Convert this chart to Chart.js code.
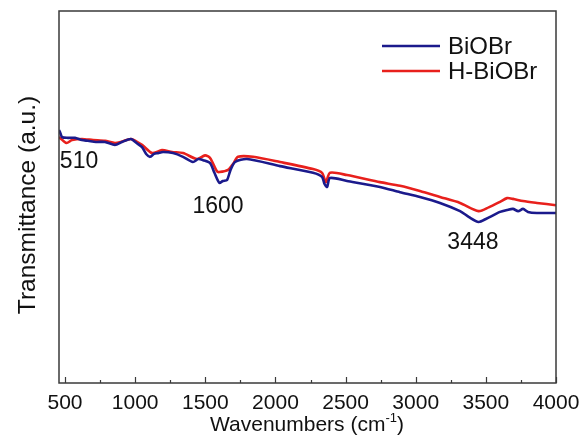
<!DOCTYPE html>
<html>
<head>
<meta charset="utf-8">
<title>FTIR spectra</title>
<script src="https://cdn.jsdelivr.net/npm/chart.js@4"></script>
<style>
  html, body { margin: 0; padding: 0; background: #fff; }
  canvas { display: block; }
</style>
</head>
<body>
<canvas id="ftir" width="583" height="443"></canvas>
<script>
// FTIR spectra, read as (wavenumber, transmittance a.u.)
const biobrX = [457, 464, 479, 521, 571, 620, 664, 720, 785, 856, 906, 970, 1010, 1049, 1080, 1106, 1135, 1163, 1199, 1270, 1341, 1412, 1450, 1484, 1534, 1565, 1600, 1625, 1655, 1680, 1712, 1797, 2033, 2268, 2332, 2350, 2368, 2389, 2510, 2745, 2888, 3030, 3173, 3316, 3380, 3448, 3500, 3601, 3651, 3693, 3730, 3765, 3800, 3864, 4000];
const biobrY = [68.0, 67.5, 66.1, 65.9, 65.9, 65.3, 65.1, 64.8, 64.8, 64.0, 64.8, 65.6, 64.5, 63.4, 61.5, 60.8, 61.6, 61.8, 62.1, 61.8, 60.8, 59.4, 60.2, 59.9, 59.1, 56.5, 53.8, 54.3, 54.6, 57.3, 59.4, 60.2, 58.3, 56.5, 55.4, 53.5, 52.7, 55.1, 54.3, 52.7, 51.3, 50.0, 48.4, 46.2, 44.6, 43.3, 44.1, 46.0, 46.5, 46.8, 46.2, 46.8, 46.0, 45.7, 45.7];

const hbiobrX = [457, 464, 510, 550, 621, 700, 785, 856, 906, 970, 1049, 1120, 1191, 1263, 1341, 1441, 1498, 1534, 1583, 1600, 1662, 1700, 1733, 1840, 2033, 2268, 2332, 2360, 2389, 2510, 2745, 2888, 3030, 3173, 3316, 3448, 3520, 3601, 3651, 3693, 3765, 3864, 4000];
const hbiobrY = [65.9, 65.9, 64.5, 65.3, 65.6, 65.3, 65.1, 64.5, 64.9, 65.6, 64.0, 61.8, 62.6, 62.1, 61.8, 60.2, 61.2, 60.5, 56.9, 56.7, 57.3, 59.0, 60.8, 60.8, 59.4, 57.5, 56.5, 54.0, 56.5, 55.9, 54.0, 53.0, 51.6, 50.0, 48.4, 46.2, 47.2, 48.7, 49.7, 49.5, 48.9, 48.4, 47.8];

const xTickValues = [500, 1000, 1500, 2000, 2500, 3000, 3500, 4000];
const xMinorTicks = [750, 1250, 1750, 2250, 2750, 3250, 3750];

// peak labels, anchored in data units
const peakLabels = ['510', '1600', '3448'];
const peakLabelX = [600, 1591, 3408];
const peakLabelY = [59.4, 47.3, 37.6];

const FONT = '"Liberation Sans", Arial, sans-serif';
const BLUE = '#1b1a8c';
const RED = '#e8201c';

function toPoints(xs, ys) {
  return xs.map((x, i) => ({ x: x, y: ys[i] }));
}

// frame, inward ticks, axis titles, peak labels and legend
const decorations = {
  id: 'decorations',
  afterDraw(chart) {
    const ctx = chart.ctx;
    const area = chart.chartArea;
    const xs = chart.scales.x;
    const ys = chart.scales.y;
    ctx.save();

    ctx.strokeStyle = '#3a3a3a';
    ctx.lineWidth = 1.5;
    ctx.strokeRect(area.left, area.top, area.right - area.left, area.bottom - area.top);

    ctx.lineWidth = 1.2;
    ctx.beginPath();
    xTickValues.forEach(v => {
      const px = Math.round(xs.getPixelForValue(v)) + 0.5;
      ctx.moveTo(px, area.bottom);
      ctx.lineTo(px, area.bottom - 6);
    });
    xMinorTicks.forEach(v => {
      const px = Math.round(xs.getPixelForValue(v)) + 0.5;
      ctx.moveTo(px, area.bottom);
      ctx.lineTo(px, area.bottom - 3);
    });
    ctx.stroke();

    ctx.fillStyle = '#111';
    ctx.textBaseline = 'middle';
    ctx.textAlign = 'center';
    ctx.font = '23px ' + FONT;
    peakLabels.forEach((t, i) => {
      ctx.fillText(t, xs.getPixelForValue(peakLabelX[i]), ys.getPixelForValue(peakLabelY[i]));
    });

    // x title with superscript
    const main = 'Wavenumbers (cm';
    const sup = '-1';
    const close = ')';
    ctx.font = '21px ' + FONT;
    const wMain = ctx.measureText(main).width;
    const wClose = ctx.measureText(close).width;
    ctx.font = '13px ' + FONT;
    const wSup = ctx.measureText(sup).width;
    const total = wMain + wSup + wClose;
    let tx = 307 - total / 2;
    const ty = 424;
    ctx.textAlign = 'left';
    ctx.textBaseline = 'alphabetic';
    ctx.font = '21px ' + FONT;
    ctx.fillText(main, tx, ty + 7);
    tx += wMain;
    ctx.font = '13px ' + FONT;
    ctx.fillText(sup, tx, ty - 2);
    tx += wSup;
    ctx.font = '21px ' + FONT;
    ctx.fillText(close, tx, ty + 7);

    // y title
    ctx.save();
    ctx.translate(28, 205);
    ctx.rotate(-Math.PI / 2);
    ctx.textAlign = 'center';
    ctx.textBaseline = 'middle';
    ctx.font = '24.5px ' + FONT;
    ctx.fillText('Transmittance (a.u.)', 0, 0);
    ctx.restore();

    // legend
    chart.data.datasets.forEach((ds, i) => {
      const ly = 46 + i * 25;
      ctx.strokeStyle = ds.borderColor;
      ctx.lineWidth = 2.5;
      ctx.beginPath();
      ctx.moveTo(382, ly);
      ctx.lineTo(440, ly);
      ctx.stroke();
      ctx.fillStyle = '#111';
      ctx.font = '24px ' + FONT;
      ctx.textAlign = 'left';
      ctx.textBaseline = 'middle';
      ctx.fillText(ds.label, 448, ly + 1);
    });

    ctx.restore();
  }
};

new Chart(document.getElementById('ftir'), {
  type: 'line',
  data: {
    datasets: [
      {
        label: 'BiOBr',
        data: toPoints(biobrX, biobrY),
        borderColor: BLUE,
        borderWidth: 2.6,
        pointRadius: 0,
        tension: 0.25,
        fill: false
      },
      {
        label: 'H-BiOBr',
        data: toPoints(hbiobrX, hbiobrY),
        borderColor: RED,
        borderWidth: 2.6,
        pointRadius: 0,
        tension: 0.25,
        fill: false
      }
    ]
  },
  options: {
    responsive: false,
    animation: false,
    devicePixelRatio: 1,
    layout: { padding: { top: 11, right: 27, left: 0, bottom: 0 } },
    plugins: {
      legend: { display: false },
      tooltip: { enabled: false }
    },
    scales: {
      x: {
        type: 'linear',
        min: 457,
        max: 4000,
        grid: { display: false },
        border: { display: false },
        afterBuildTicks: scale => {
          scale.ticks = xTickValues.map(v => ({ value: v }));
        },
        afterFit: scale => { scale.height = 60; },
        ticks: {
          color: '#111',
          padding: 0,
          maxRotation: 0,
          autoSkip: false,
          font: { family: FONT, size: 21 },
          callback: v => String(v)
        }
      },
      y: {
        min: 0,
        max: 100,
        grid: { display: false },
        border: { display: false },
        ticks: { display: false },
        afterFit: scale => { scale.width = 59; }
      }
    }
  },
  plugins: [decorations]
});
</script>
</body>
</html>
